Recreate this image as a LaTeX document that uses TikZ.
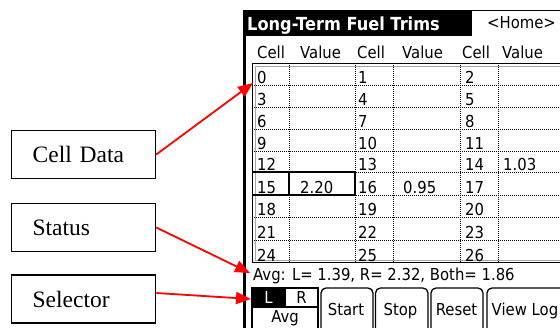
\documentclass[tikz,border=0pt]{standalone}
\usepackage{fontspec}
\setmainfont{Liberation Serif}
\newfontfamily\palm[FakeStretch=0.9]{DejaVu Sans}
\usetikzlibrary{arrows.meta}
\begin{document}
\begin{tikzpicture}[x=1pt,y=-1pt,
  lbl/.style={draw=black, line width=1.3pt, minimum height=48pt, text width=102pt, align=left, inner xsep=21pt, anchor=west, font=\fontsize{23.5}{26}\selectfont},
  redarrow/.style={draw=red, line width=1.8pt, -{Triangle[length=15pt,width=12pt]}},
  scr/.style={font=\palm\fontsize{16.5}{17}\selectfont, inner sep=0pt, anchor=base west},
  scrc/.style={scr, anchor=base},
  dots/.style={line width=1pt, dash pattern=on 1pt off 1pt},
  btn/.style={draw=black, line width=1.3pt, rounded corners=5pt},
]
\useasboundingbox (0,0) rectangle (560,327);
\begin{scope}
\clip (0,0) rectangle (560,327);
% screen frame
\draw[line width=2.5pt] (244.5,10) -- (244.5,330);
\fill[black] (243,10) rectangle (472,36);
\draw[line width=1pt] (472,10.5) -- (565,10.5);
\node[scr, text=white, font=\palm\bfseries\fontsize{18}{19}\selectfont] (title) at (247,30) {Long-Term Fuel Trims};
\node[scr] (home) at (487,28.5) {<Home>};
% header
\foreach \x/\t [count=\i] in {257/Cell,300/Value,357/Cell,402/Value,462/Cell,502/Value}
  \node[scr] (h\i) at (\x,58) {\t};
% table grid
\foreach \y in {85,107,129,151,172,195,217,240}
  \draw[dots] (252,\y) -- (565,\y);
\foreach \x in {289,355,393,460,498}
  \draw[dots] (\x,63) -- (\x,263);
\draw[line width=1.4pt] (252.5,63.5) rectangle (570,262.5);
\draw[gray!70, line width=0.8pt] (255.5,66) rectangle (570,260);
\draw[line width=1.5pt] (252.5,172) rectangle (355,195);
\draw[line width=1.5pt] (289,172) -- (289,195);
% cell numbers
\foreach \r/\b in {0/85,1/107,2/129,3/151,4/172,5/195,6/217,7/240,8/263} {
  \pgfmathtruncatemacro\ca{3*\r}
  \pgfmathtruncatemacro\cb{3*\r+1}
  \pgfmathtruncatemacro\cc{3*\r+2}
  \node[scr] (c\ca) at (257,\b-2) {\ca};
  \node[scr] (c\cb) at (358,\b-2) {\cb};
  \node[scr] (c\cc) at (465,\b-2) {\cc};
}
\node[scr] (v15) at (300,193) {2.20};
\node[scr] (v16) at (403,193) {0.95};
\node[scr] (v14) at (503,170) {1.03};
% status line
\node[scr] (stat) at (253,280) {Avg: L= 1.39, R= 2.32, Both= 1.86};
% selector
\fill[black] (252,288) rectangle (285,307);
\draw[line width=1.5pt] (252,288) rectangle (318,340);
\draw[line width=1.5pt] (252,307) -- (318,307);
\draw[line width=1.2pt] (285,288) -- (285,307);
\node[scrc, text=white] (selL) at (268.5,303) {L};
\node[scrc] (selR) at (301.5,303) {R};
\node[scrc] (selA) at (285,322) {Avg};
% buttons
\draw[btn] (321,288) rectangle (373,345);
\draw[btn] (375.5,288) rectangle (428,345);
\draw[btn] (431,288) rectangle (483,345);
\draw[btn] (487,288) rectangle (580,345);
\node[scrc] (bstart) at (346,315) {Start};
\node[scrc] (bstop) at (400.5,315) {Stop};
\node[scrc] (breset) at (456.5,315) {Reset};
\node[scr] (bview) at (491.5,315) {View Log};
\end{scope}
% callouts
\node[lbl] (celldata) at (11,154.5) {Cell Data};
\node[lbl] (status) at (11,227.5) {Status};
\node[lbl] (selector) at (11,299) {Selector};
\coordinate (tipA) at (253,83);
\coordinate (tipB) at (250,273);
\coordinate (tipC) at (251,299);
\draw[redarrow] (celldata.east) -- (tipA);
\draw[redarrow] (status.east) -- (tipB);
\draw[redarrow] ([yshift=6pt]selector.east) -- (tipC);
\end{tikzpicture}
\end{document}
